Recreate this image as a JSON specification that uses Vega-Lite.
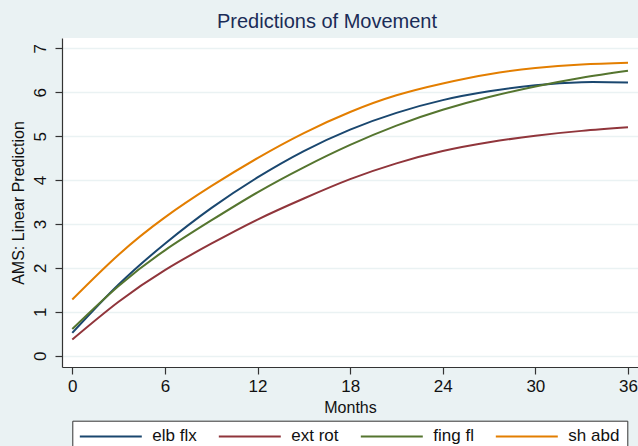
{
  "$schema": "https://vega.github.io/schema/vega-lite/v6.json",
  "autosize": {"type": "none"},
  "width": 576,
  "height": 329,
  "padding": {"left": 62, "top": 38, "right": 0, "bottom": 79},
  "background": "#eaf2f3",
  "title": {
    "text": "Predictions of Movement",
    "fontSize": 20,
    "font": "Liberation Sans",
    "fontWeight": "normal",
    "color": "#1a2c57",
    "anchor": "middle",
    "dx": -23,
    "offset": 6
  },
  "data": {
    "values": [
      {"m": 0, "s": "elb flx", "v": 0.52},
      {"m": 3, "s": "elb flx", "v": 1.62},
      {"m": 6, "s": "elb flx", "v": 2.55},
      {"m": 9, "s": "elb flx", "v": 3.36},
      {"m": 12, "s": "elb flx", "v": 4.06},
      {"m": 15, "s": "elb flx", "v": 4.66},
      {"m": 18, "s": "elb flx", "v": 5.15},
      {"m": 21, "s": "elb flx", "v": 5.53},
      {"m": 24, "s": "elb flx", "v": 5.82},
      {"m": 27, "s": "elb flx", "v": 6.02},
      {"m": 30, "s": "elb flx", "v": 6.16},
      {"m": 33, "s": "elb flx", "v": 6.23},
      {"m": 36, "s": "elb flx", "v": 6.22},
      {"m": 0, "s": "ext rot", "v": 0.37},
      {"m": 3, "s": "ext rot", "v": 1.23},
      {"m": 6, "s": "ext rot", "v": 1.95},
      {"m": 9, "s": "ext rot", "v": 2.55},
      {"m": 12, "s": "ext rot", "v": 3.10},
      {"m": 15, "s": "ext rot", "v": 3.58},
      {"m": 18, "s": "ext rot", "v": 4.02},
      {"m": 21, "s": "ext rot", "v": 4.38},
      {"m": 24, "s": "ext rot", "v": 4.66},
      {"m": 27, "s": "ext rot", "v": 4.86},
      {"m": 30, "s": "ext rot", "v": 5.01},
      {"m": 33, "s": "ext rot", "v": 5.12},
      {"m": 36, "s": "ext rot", "v": 5.20},
      {"m": 0, "s": "fing fl", "v": 0.61},
      {"m": 3, "s": "fing fl", "v": 1.59},
      {"m": 6, "s": "fing fl", "v": 2.40},
      {"m": 9, "s": "fing fl", "v": 3.08},
      {"m": 12, "s": "fing fl", "v": 3.72},
      {"m": 15, "s": "fing fl", "v": 4.29},
      {"m": 18, "s": "fing fl", "v": 4.80},
      {"m": 21, "s": "fing fl", "v": 5.24},
      {"m": 24, "s": "fing fl", "v": 5.60},
      {"m": 27, "s": "fing fl", "v": 5.89},
      {"m": 30, "s": "fing fl", "v": 6.13},
      {"m": 33, "s": "fing fl", "v": 6.33},
      {"m": 36, "s": "fing fl", "v": 6.49},
      {"m": 0, "s": "sh abd", "v": 1.28},
      {"m": 3, "s": "sh abd", "v": 2.30},
      {"m": 6, "s": "sh abd", "v": 3.15},
      {"m": 9, "s": "sh abd", "v": 3.86},
      {"m": 12, "s": "sh abd", "v": 4.50},
      {"m": 15, "s": "sh abd", "v": 5.07},
      {"m": 18, "s": "sh abd", "v": 5.55},
      {"m": 21, "s": "sh abd", "v": 5.93},
      {"m": 24, "s": "sh abd", "v": 6.20},
      {"m": 27, "s": "sh abd", "v": 6.41},
      {"m": 30, "s": "sh abd", "v": 6.55},
      {"m": 33, "s": "sh abd", "v": 6.63},
      {"m": 36, "s": "sh abd", "v": 6.67}
    ]
  },
  "mark": {"type": "line", "strokeWidth": 2, "interpolate": "natural"},
  "encoding": {
    "x": {
      "field": "m",
      "type": "quantitative",
      "scale": {"domain": [-0.667, 36.649], "nice": false, "zero": false},
      "axis": {
        "values": [0, 6, 12, 18, 24, 30, 36],
        "title": "Months",
        "grid": false,
        "labelPadding": 4,
        "titlePadding": 5,
        "labelFlush": false,
        "labelOverlap": false
      }
    },
    "y": {
      "field": "v",
      "type": "quantitative",
      "scale": {"domain": [-0.257, 7.235], "nice": false, "zero": false},
      "axis": {
        "values": [0, 1, 2, 3, 4, 5, 6, 7],
        "title": "AMS: Linear Prediction",
        "grid": true,
        "labelAngle": -90,
        "labelAlign": "center",
        "labelBaseline": "bottom",
        "labelPadding": 6,
        "titlePadding": 5,
        "labelFlush": false,
        "labelOverlap": false
      }
    },
    "color": {
      "field": "s",
      "type": "nominal",
      "scale": {
        "domain": ["elb flx", "ext rot", "fing fl", "sh abd"],
        "range": ["#1a476f", "#90353b", "#55752f", "#e37e00"]
      },
      "legend": {
        "title": null,
        "orient": "none",
        "legendX": 10.3,
        "legendY": 382.7,
        "direction": "horizontal",
        "columns": 4,
        "symbolType": "M-1.33,0H9",
        "symbolSize": 144,
        "symbolStrokeWidth": 2,
        "labelFontSize": 17,
        "labelFont": "Liberation Sans",
        "labelColor": "#111111",
        "labelOffset": 56,
        "columnPadding": 17,
        "padding": 7,
        "strokeColor": "#333333",
        "fillColor": "white",
        "cornerRadius": 0
      }
    }
  },
  "config": {
    "view": {"fill": "white", "stroke": null},
    "font": "Liberation Sans",
    "axis": {
      "domainColor": "#333333",
      "domainWidth": 1.2,
      "tickColor": "#333333",
      "tickSize": 7,
      "tickWidth": 1.2,
      "labelFont": "Liberation Sans",
      "labelFontSize": 17,
      "labelColor": "#111111",
      "titleFont": "Liberation Sans",
      "titleFontSize": 16,
      "titleFontWeight": "normal",
      "titleColor": "#111111",
      "gridColor": "#eaf2f3",
      "gridWidth": 1.5
    }
  }
}
